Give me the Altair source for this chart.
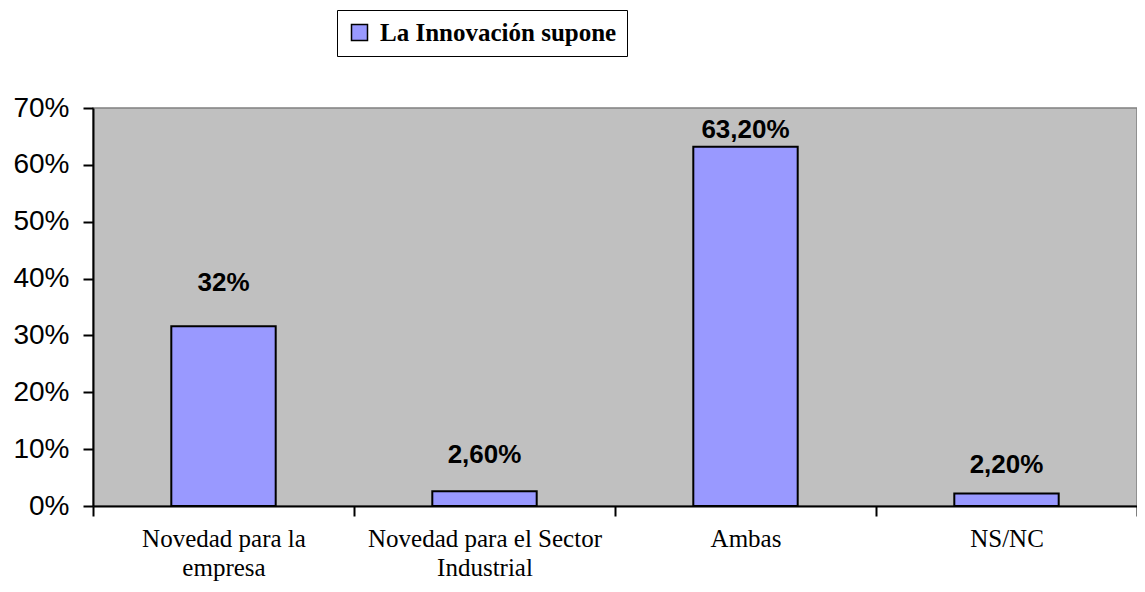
import altair as alt
import pandas as pd

categories = ["Novedad para la\nempresa", "Novedad para el Sector\nIndustrial", "Ambas", "NS/NC"]
values = [0.316, 0.026, 0.632, 0.022]
value_labels = ["32%", "2,60%", "63,20%", "2,20%"]
label_y = [0.392, 0.090, 0.661, 0.072]
series = "La Innovación supone"

df = pd.DataFrame({
    "cat": categories,
    "value": values,
    "label": value_labels,
    "label_y": label_y,
    "series": [series] * len(categories),
})

x_enc = alt.X(
    "cat:N",
    sort=categories,
    scale=alt.Scale(paddingInner=0, paddingOuter=0),
    axis=alt.Axis(
        title=None,
        labelAngle=0,
        labelExpr="split(datum.label, '\\n')",
        labelFont="Liberation Serif",
        labelFontSize=25,
        labelColor="black",
        labelLineHeight=29,
        labelPadding=10,
        labelLimit=400,
        tickBand="extent",
        tickSize=10,
        tickColor="black",
        tickWidth=2,
        domainColor="black",
        domainWidth=2,
        grid=False,
    ),
)

bars = alt.Chart(df).mark_bar(
    stroke="black", strokeWidth=2, width=alt.RelativeBandSize(0.4)
).encode(
    x=x_enc,
    y=alt.Y(
        "value:Q",
        scale=alt.Scale(domain=[0, 0.7], nice=False),
        axis=alt.Axis(
            title=None,
            format=".0%",
            values=[0, 0.1, 0.2, 0.3, 0.4, 0.5, 0.6, 0.7],
            labelFont="Liberation Sans",
            labelFontSize=28,
            labelColor="black",
            labelPadding=14,
            tickSize=10,
            tickColor="black",
            tickWidth=2,
            domainColor="black",
            domainWidth=2,
            grid=False,
        ),
    ),
    color=alt.Color(
        "series:N",
        scale=alt.Scale(range=["#9999FF"]),
        legend=alt.Legend(
            title=None,
            orient="none",
            legendX=244,
            legendY=-98,
            symbolType="square",
            symbolSize=256,
            symbolStrokeColor="black",
            symbolStrokeWidth=1.5,
            labelFont="Liberation Serif",
            labelFontSize=25,
            labelFontWeight="bold",
            labelColor="black",
            labelOffset=8,
            labelLimit=400,
            strokeColor="black",
            padding=10,
            fillColor="white",
        ),
    ),
)

texts = alt.Chart(df).mark_text(
    font="Liberation Sans", fontSize=26, fontWeight="bold", color="black", baseline="middle"
).encode(
    x=alt.X("cat:N", sort=categories),
    y=alt.Y("label_y:Q"),
    text="label:N",
)

chart = (
    alt.layer(bars, texts)
    .properties(
        width=1044,
        height=398,
        autosize=alt.AutoSizeParams(type="none"),
        padding={"left": 85, "top": 100, "right": 0, "bottom": 78},
        view=alt.ViewBackground(fill="#C0C0C0", stroke="#808080", strokeWidth=1.5),
    )
    .configure_legend(strokeWidth=2)
    .configure(background="white")
)

chart.save("out.html", embed_options={"renderer": "svg", "actions": False})
